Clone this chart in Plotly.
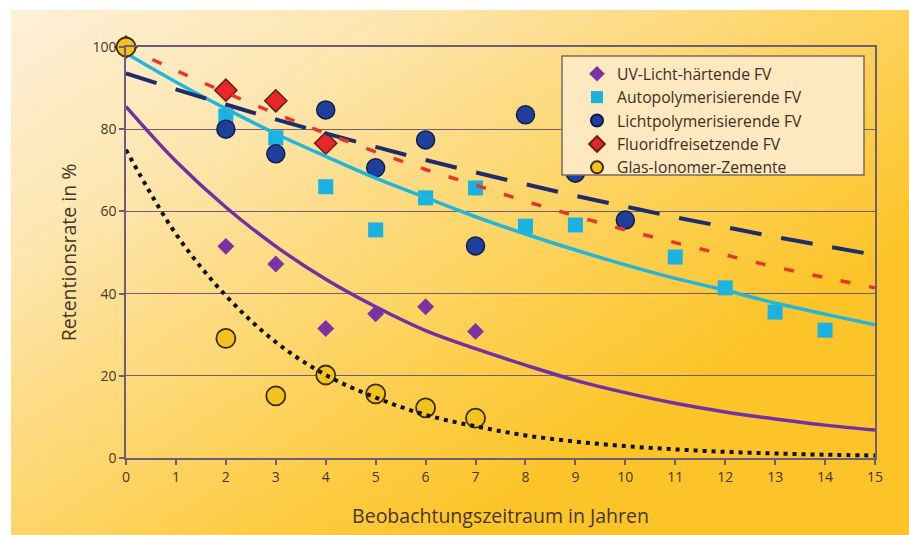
import base64, struct, zlib
import plotly.graph_objects as go

# ---------------- data ----------------
uv_x = [0, 2, 3, 4, 5, 6, 7]
uv_y = [100, 51.5, 47.2, 31.5, 35.1, 36.8, 30.8]

auto_x = [0, 2, 3, 4, 5, 6, 7, 8, 9, 11, 12, 13, 14]
auto_y = [100, 83.2, 77.9, 66.0, 55.5, 63.3, 65.7, 56.4, 56.7, 48.9, 41.4, 35.5, 31.1]

licht_x = [0, 2, 3, 4, 5, 6, 7, 8, 9, 10]
licht_y = [100, 80.0, 74.0, 84.7, 70.6, 77.4, 51.6, 83.5, 69.3, 57.9]

fluor_x = [0, 2, 3, 4]
fluor_y = [100, 89.5, 86.9, 76.6]

giz_x = [0, 2, 3, 4, 5, 6, 7]
giz_y = [100, 29.1, 15.1, 20.2, 15.6, 12.2, 9.7]

# trend curves read at whole years 0..15
years = list(range(16))
uv_trend = [85.5, 72.2, 61.0, 51.5, 43.5, 36.8, 31.0, 26.6, 22.6, 18.9, 15.9, 13.3, 11.2, 9.5, 8.0, 6.8]
auto_trend = [98.5, 91.5, 85.0, 78.9, 73.4, 68.1, 63.4, 58.7, 54.5, 50.6, 47.0, 43.7, 40.8, 37.7, 35.0, 32.4]
licht_trend = [93.6, 89.7, 86.0, 82.4, 79.0, 75.7, 72.5, 69.5, 66.6, 63.8, 61.2, 58.6, 56.2, 53.8, 51.6, 49.4]
fluor_trend = [100, 94.3, 88.9, 83.8, 79.0, 74.5, 70.2, 66.4, 62.5, 58.9, 55.5, 52.4, 49.4, 46.5, 43.9, 41.4]
giz_trend = [75.0, 54.5, 39.5, 28.2, 20.2, 14.7, 10.5, 7.7, 5.5, 4.0, 2.9, 2.1, 1.5, 1.1, 0.8, 0.6]

names = ["UV-Licht-härtende FV", "Autopolymerisierende FV", "Lichtpolymerisierende FV",
         "Fluoridfreisetzende FV", "Glas-Ionomer-Zemente"]
x_ticks = list(range(16))
y_ticks = [0, 20, 40, 60, 80, 100]

# ---------------- background gradient image ----------------
def grad_color(u, v):
    t = max(0.0, min(1.0, 0.72 * u + 0.66 * v))
    stops = [(0.0, (254, 240, 216)), (0.3, (253, 230, 176)), (0.55, (253, 218, 124)),
             (0.8, (253, 206, 74)), (1.0, (252, 196, 40))]
    for (t0, c0), (t1, c1) in zip(stops, stops[1:]):
        if t <= t1:
            f = (t - t0) / (t1 - t0)
            return tuple(int(round(a + (b - a) * f)) for a, b in zip(c0, c1))
    return stops[-1][1]

def make_png(w, h):
    rows = []
    for j in range(h):
        row = bytearray([0])
        for i in range(w):
            row.extend(grad_color(i / (w - 1), j / (h - 1)))
        rows.append(bytes(row))
    raw = b"".join(rows)
    def chunk(tag, data):
        c = struct.pack(">I", len(data)) + tag + data
        return c + struct.pack(">I", zlib.crc32(tag + data) & 0xffffffff)
    png = b"\x89PNG\r\n\x1a\n"
    png += chunk(b"IHDR", struct.pack(">IIBBBBB", w, h, 8, 2, 0, 0, 0))
    png += chunk(b"IDAT", zlib.compress(raw, 9))
    png += chunk(b"IEND", b"")
    return "data:image/png;base64," + base64.b64encode(png).decode()

bg_src = make_png(120, 70)

# plot area in pixels: x 126..875, y 47..458
L, R, T, B = 126, 34, 47, 77
W, H = 909, 535
pw, ph = W - L - R, H - T - B
def px(xp): return (xp - L) / pw
def py(yp): return (H - B - yp) / ph

FONT = "Open Sans"
TXT = "#463626"
AX = "#6d5d76"

fig = go.Figure()

# markers (below the lines)
fig.add_trace(go.Scatter(x=uv_x, y=uv_y, mode="markers", name=names[0], legendrank=1,
                         marker=dict(symbol="diamond", size=13, color="#7b32a6"), cliponaxis=False))
fig.add_trace(go.Scatter(x=auto_x, y=auto_y, mode="markers", name=names[1], legendrank=2,
                         marker=dict(symbol="square", size=15, color="#19b2e2"), cliponaxis=False))
fig.add_trace(go.Scatter(x=licht_x, y=licht_y, mode="markers", name=names[2], legendrank=3,
                         marker=dict(symbol="circle", size=18, color="#1f3f9c",
                                     line=dict(color="#101c48", width=1.5)), cliponaxis=False))
fig.add_trace(go.Scatter(x=fluor_x, y=fluor_y, mode="markers", name=names[3], legendrank=4,
                         marker=dict(symbol="diamond", size=17, color="#e8262b",
                                     line=dict(color="#6a1c10", width=1.5)), cliponaxis=False))

# trend lines
fig.add_trace(go.Scatter(x=years, y=uv_trend, mode="lines", showlegend=False, hoverinfo="skip",
                         line=dict(color="#7231a2", width=3.5, shape="spline")))
fig.add_trace(go.Scatter(x=years, y=auto_trend, mode="lines", showlegend=False, hoverinfo="skip",
                         line=dict(color="#22b6dc", width=3.5, shape="spline")))
fig.add_trace(go.Scatter(x=years, y=licht_trend, mode="lines", showlegend=False, hoverinfo="skip",
                         line=dict(color="#1f2c6c", width=4, dash="32px,20px", shape="spline")))
fig.add_trace(go.Scatter(x=years, y=fluor_trend, mode="lines", showlegend=False, hoverinfo="skip",
                         line=dict(color="#e8352a", width=3.5, dash="10px,19px", shape="spline")))

fig.add_trace(go.Scatter(x=giz_x, y=giz_y, mode="markers", name=names[4], legendrank=5,
                         marker=dict(symbol="circle", size=19, color="#f3c21c",
                                     line=dict(color="#3c2c0c", width=1.8)), cliponaxis=False))
fig.add_trace(go.Scatter(x=years, y=giz_trend, mode="lines", showlegend=False, hoverinfo="skip",
                         line=dict(color="#111111", width=4, dash="4px,5px", shape="spline")))

fig.update_layout(
    width=W, height=H,
    margin=dict(l=L, r=R, t=T, b=B),
    paper_bgcolor="white",
    plot_bgcolor="rgba(0,0,0,0)",
    font=dict(family=FONT, color=TXT, size=14),
    images=[dict(source=bg_src, xref="paper", yref="paper",
                 x=px(11), y=py(10), sizex=px(925) - px(11), sizey=py(10) - py(550),
                 xanchor="left", yanchor="top", sizing="stretch", layer="below")],
    shapes=[dict(type="rect", xref="paper", yref="paper", layer="above",
                 x0=px(562), x1=px(864), y0=py(175), y1=py(56),
                 fillcolor="#fde8bf", line=dict(color="#7a6a5e", width=1.5))],
    legend=dict(x=px(577), y=py(57), xanchor="left", yanchor="top",
                bgcolor="rgba(0,0,0,0)", borderwidth=0, itemsizing="constant",
                font=dict(family=FONT, size=15.7, color="#3d2e22"), tracegroupgap=0),
    showlegend=True,
)

fig.update_xaxes(range=[0, 15], tickvals=x_ticks, ticktext=[str(v) for v in x_ticks],
                 showgrid=False, zeroline=False, showline=True, linecolor=AX, linewidth=1.5,
                 mirror=True, ticks="outside", ticklen=5, tickcolor=AX, tickwidth=1.5,
                 tickfont=dict(size=14, color=TXT),
                 title=dict(text="Beobachtungszeitraum in Jahren", font=dict(size=19.5, color=TXT), standoff=25))
fig.update_yaxes(range=[0, 100], tickvals=y_ticks, ticktext=[str(v) for v in y_ticks],
                 showgrid=True, gridcolor=AX, gridwidth=1.2, zeroline=False,
                 showline=True, linecolor=AX, linewidth=1.5, mirror=True,
                 ticks="outside", ticklen=5, tickcolor=AX, tickwidth=1.5,
                 tickfont=dict(size=14, color=TXT),
                 title=dict(text="Retentionsrate in %", font=dict(size=19.5, color=TXT), standoff=11))

fig.write_html("out.html", config={"displayModeBar": False},
               post_script=("document.body.style.margin='0px';"
                            "document.body.style.background="
                            "'linear-gradient(to right, rgb(253,220,128), rgb(252,196,40))';"))
